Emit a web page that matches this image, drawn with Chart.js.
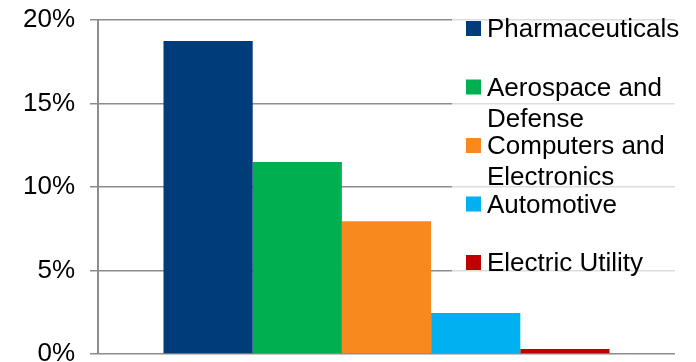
<!DOCTYPE html>
<html>
<head>
<meta charset="utf-8">
<script src="https://cdn.jsdelivr.net/npm/chart.js@4"></script>
<style>
  body { margin: 0; background: #fff; }
  #wrap { width: 696px; height: 362px; }
</style>
</head>
<body>
<div id="wrap"><canvas id="sectorChart" width="696" height="362"></canvas></div>
<script>
// data
const categories = [''];
const seriesNames = ['Pharmaceuticals', 'Aerospace and Defense', 'Computers and Electronics', 'Automotive', 'Electric Utility'];
const legendLines = [['Pharmaceuticals'], ['Aerospace and', 'Defense'], ['Computers and', 'Electronics'], ['Automotive'], ['Electric Utility']];
const seriesValues = [18.75, 11.5, 7.95, 2.45, 0.3];
const seriesColors = ['#003b7a', '#00b050', '#f7891f', '#00b0f0', '#c00000'];
const yTicks = [0, 5, 10, 15, 20];

const FONT = '"Liberation Sans", Arial, sans-serif';

// legend drawn by hand so the labels can wrap like the original
const sideLegend = {
  id: 'sideLegend',
  afterDraw(chart) {
    const ctx = chart.ctx;
    const area = chart.chartArea;
    ctx.save();
    ctx.fillStyle = 'rgba(255,255,255,0.7)';
    ctx.fillRect(452, 4, area.right - 452, 282);
    ctx.font = '26px ' + FONT;
    ctx.textBaseline = 'alphabetic';
    chart.data.datasets.forEach((ds, i) => {
      const base = 37 + i * 58.5;
      ctx.fillStyle = ds.backgroundColor;
      ctx.fillRect(466, base - 16, 15, 15);
      ctx.fillStyle = '#000';
      legendLines[i].forEach((line, j) => {
        ctx.fillText(line, 487, base + j * 31);
      });
    });
    ctx.restore();
  }
};

document.addEventListener('DOMContentLoaded', function () {
  const ctx = document.getElementById('sectorChart').getContext('2d');
  new Chart(ctx, {
    type: 'bar',
    data: {
      labels: categories,
      datasets: seriesNames.map((name, i) => ({
        label: name,
        data: [seriesValues[i]],
        backgroundColor: seriesColors[i],
        borderWidth: 0,
        barPercentage: 1,
        categoryPercentage: 0.773,
      })),
    },
    options: {
      responsive: false,
      animation: false,
      layout: { padding: { top: 20, bottom: 8, left: 0, right: 21 } },
      plugins: {
        legend: { display: false },
        tooltip: { enabled: false },
      },
      scales: {
        x: { display: false },
        y: {
          min: 0,
          max: 20,
          afterBuildTicks(scale) {
            scale.ticks = yTicks.map(v => ({ value: v }));
          },
          afterFit(scale) {
            scale.width = 98;
            scale.paddingTop = 0;
            scale.paddingBottom = 0;
          },
          ticks: {
            padding: 15,
            color: '#000',
            font: { family: FONT, size: 26 },
            callback: v => v + '%',
          },
          grid: {
            color: '#8c8c8c',
            lineWidth: 1.5,
            tickLength: 8,
          },
          border: { color: '#8c8c8c', width: 2 },
        },
      },
    },
    plugins: [sideLegend],
  });
});
</script>
</body>
</html>
